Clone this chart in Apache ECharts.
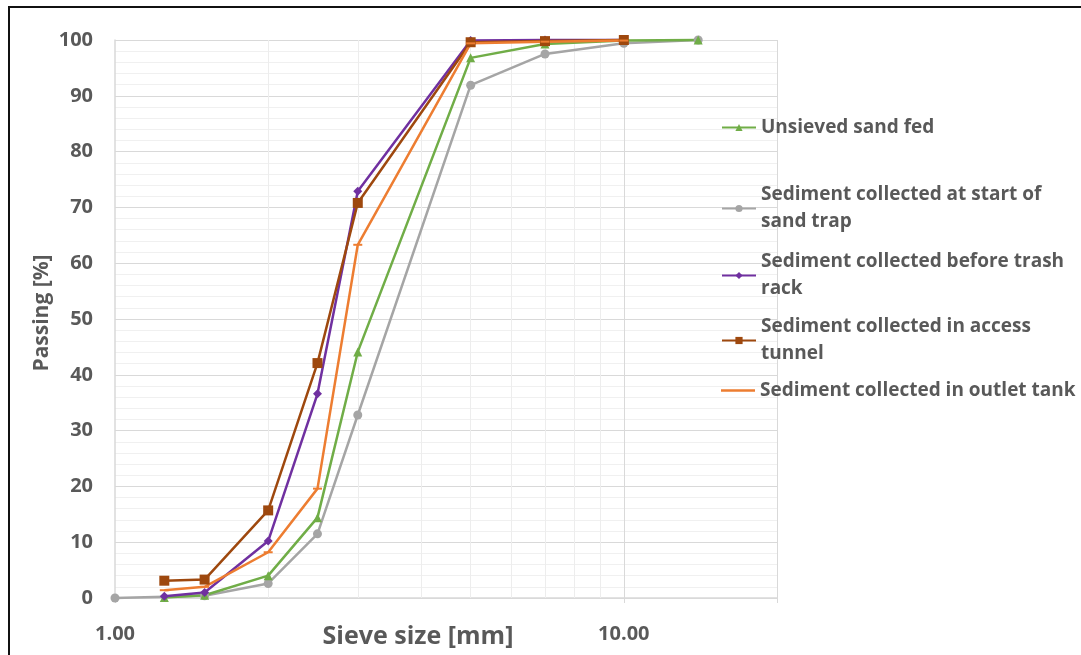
<!DOCTYPE html>
<html lang="en">
<head>
	<meta charset="UTF-8">
	<title>Sieve curves</title>
	<script src="https://cdn.jsdelivr.net/npm/echarts@6/dist/echarts.min.js"></script>
	<style>
		html, body { margin: 0; padding: 0; background: #fff; overflow: hidden; width: 1081px; height: 655px; }
		#frame {
			position: absolute; left: 8px; top: 6px; width: 1073px; height: 649px;
			border-top: 2px solid #111; border-left: 2px solid #111; box-sizing: border-box;
		}
		#main { position: absolute; left: 0; top: 0; width: 1081px; height: 655px; }
	</style>
</head>
<body>
	<div id="frame"></div>
	<div id="main"></div>

	<script type="text/javascript">
		// sieve sizes [mm] and % passing
		var sizesFed = [1.25, 1.5, 2, 2.5, 3, 5, 7, 10, 14];
		var unsievedFed = [0.1, 0.5, 4.0, 14.4, 44.1, 96.8, 99.3, 99.9, 100];

		var sizesStart = [1, 1.5, 2, 2.5, 3, 5, 7, 10, 14];
		var startSandTrap = [0, 0.4, 2.6, 11.5, 32.8, 91.9, 97.5, 99.4, 100];

		var sizesOther = [1.25, 1.5, 2, 2.5, 3, 5, 7, 10];
		var beforeTrashRack = [0.3, 1.0, 10.2, 36.6, 72.9, 99.9, 100, 100];
		var accessTunnel = [3.1, 3.3, 15.7, 42.1, 70.8, 99.6, 99.8, 100];
		var outletTank = [1.4, 2.0, 8.2, 19.6, 63.3, 99.4, 99.7, 99.9];

		var seriesNames = [
			'Unsieved sand fed',
			'Sediment collected at start of sand trap',
			'Sediment collected before trash rack',
			'Sediment collected in access tunnel',
			'Sediment collected in outlet tank'
		];
		// how the legend wraps the long names
		var legendLabels = [
			'Unsieved sand fed',
			'Sediment collected at start of\nsand trap',
			'Sediment collected before trash\nrack',
			'Sediment collected in access\ntunnel',
			'Sediment collected in outlet tank'
		];
		var minorGridX = [2, 3, 4, 5, 6, 7, 8, 9];

		function pairs(xs, ys) {
			return xs.map(function (x, i) { return [x, ys[i]]; });
		}

		var myChart = echarts.init(document.getElementById('main'), null, { renderer: 'canvas' });

		var txt = '#595959';
		var font = "'Open Sans', 'DejaVu Sans', sans-serif";

		function mkSeries(name, data, color, symbol, size) {
			return {
				name: name,
				type: 'line',
				data: data,
				color: color,
				symbol: symbol,
				symbolSize: size,
				showSymbol: true,
				clip: false,
				lineStyle: { width: 2.5, color: color },
				itemStyle: { color: color },
				emphasis: { disabled: true },
				z: 3
			};
		}

		var legendTops = [126, 192, 259, 324, 389];
		var legends = seriesNames.map(function (n, i) {
			var twoLines = legendLabels[i].indexOf('\n') >= 0;
			var plainLine = i === 4; // outlet tank: dash marker, legend shows the line only
			return {
				orient: 'vertical',
				left: 721,
				top: twoLines ? legendTops[i] - 24 : legendTops[i] - 12,
				padding: 0,
				itemWidth: 34,
				itemHeight: plainLine ? 2.5 : 9,
				icon: plainLine ? 'rect' : undefined,
				selectedMode: false,
				data: [n],
				formatter: function () { return legendLabels[i]; },
				textStyle: {
					color: txt, fontSize: 19, fontWeight: 'bold', fontFamily: font,
					lineHeight: 27,
					padding: twoLines ? [27, 0, 0, 0] : 0
				}
			};
		});

		var option = {
			backgroundColor: 'transparent',
			animation: false,
			legend: legends,
			grid: { left: 115, top: 40, right: 304, bottom: 57, containLabel: false, outerBoundsMode: 'none' },
			xAxis: {
				type: 'log',
				logBase: 10,
				min: 1,
				max: 20,
				name: 'Sieve size [mm]',
				nameLocation: 'middle',
				nameGap: 26,
				nameMoveOverlap: false,
				nameTextStyle: {
					color: txt, fontSize: 25, fontWeight: 'bold', fontFamily: font,
					verticalAlign: 'top', padding: [0, 56, 0, 0]
				},
				axisLine: { show: true, lineStyle: { color: '#d9d9d9', width: 1.5 } },
				axisTick: { show: true, length: 5, lineStyle: { color: '#d9d9d9' } },
				axisLabel: {
					color: txt, fontSize: 20, fontWeight: 'bold', fontFamily: font, margin: 26,
					formatter: function (v) {
						return (Math.abs(v - 1) < 1e-6 || Math.abs(v - 10) < 1e-6) ? v.toFixed(2) : '';
					}
				},
				splitLine: { show: true, showMinLine: false, lineStyle: { color: '#d9d9d9', width: 1 } }
			},
			yAxis: {
				type: 'value',
				min: 0,
				max: 100,
				interval: 10,
				name: 'Passing [%]',
				nameLocation: 'middle',
				nameGap: 62,
				nameMoveOverlap: false,
				nameTextStyle: {
					color: txt, fontSize: 21, fontWeight: 'bold', fontFamily: font,
					padding: [0, 0, 0, 12]
				},
				axisLine: { show: true, lineStyle: { color: '#d9d9d9', width: 1.5 } },
				axisTick: { show: false },
				axisLabel: { color: txt, fontSize: 20, fontWeight: 'bold', fontFamily: font, margin: 22 },
				splitLine: { show: true, lineStyle: { color: '#d9d9d9', width: 1 } },
				minorTick: { show: false, splitNumber: 5 },
				minorSplitLine: { show: true, lineStyle: { color: '#f0f0f0', width: 1 } }
			},
			series: [
				{
					name: 'minor-grid',
					type: 'line',
					data: [],
					silent: true,
					z: 1,
					markLine: {
						silent: true,
						z: 1,
						symbol: 'none',
						animation: false,
						label: { show: false },
						lineStyle: { color: '#ededed', width: 1, type: 'solid' },
						data: minorGridX.map(function (v) { return { xAxis: v }; })
					}
				},
				mkSeries(seriesNames[1], pairs(sizesStart, startSandTrap), '#a5a5a5', 'circle', 9),
				mkSeries(seriesNames[0], pairs(sizesFed, unsievedFed), '#70ad47', 'triangle', 9),
				mkSeries(seriesNames[2], pairs(sizesOther, beforeTrashRack), '#7030a0', 'diamond', 9),
				mkSeries(seriesNames[3], pairs(sizesOther, accessTunnel), '#9e480e', 'rect', 10),
				mkSeries(seriesNames[4], pairs(sizesOther, outletTank), '#ed7d31', 'path://M0,0 H10 V2 H0 Z', [9, 2])
			]
		};

		myChart.setOption(option);
	</script>
</body>
</html>
